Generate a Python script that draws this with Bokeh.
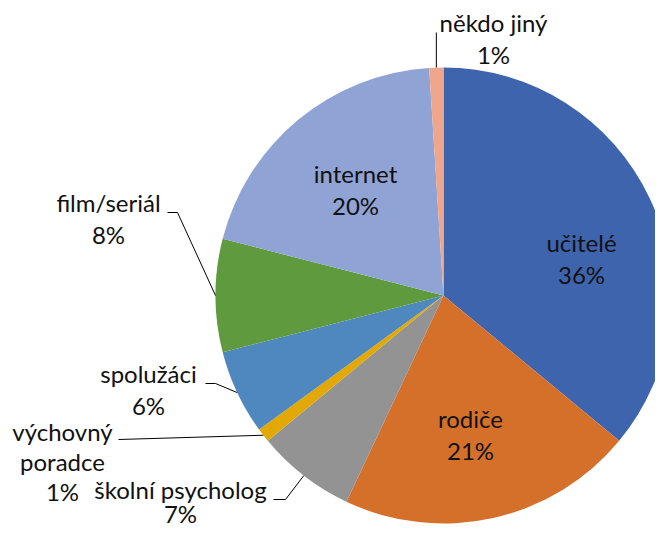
import math
from bokeh.plotting import figure
from bokeh.models import Range1d, ColumnDataSource
from bokeh.core.properties import value
from bokeh.embed import file_html
from bokeh.resources import INLINE

# ---- data ----
categories = ["učitelé", "rodiče", "školní psycholog", "výchovný poradce",
              "spolužáci", "film/seriál", "internet", "někdo jiný"]
percents = [36, 21, 7, 1, 6, 8, 20, 1]
colors = ["#3E64AE", "#D5702B", "#939393", "#E2A905",
          "#4F87BF", "#609A3F", "#8FA3D4", "#EFA68B"]

# ---- layout (pixels from the picture's top-left) ----
W, H = 655, 532
CX, CY, R = 443, 295, 228
FONT = "Lato"
FS = "24px"
LINE = 32
DY = -3  # font baseline correction

def Y(py):
    return H - py

# label text lines (first-line centre) per category, and line spacing
label_lines = {
    "učitelé": (["učitelé"], 581, 245, LINE),
    "rodiče": (["rodiče"], 470, 421, LINE),
    "školní psycholog": (["školní psycholog"], 180, 492, 24),
    "výchovný poradce": (["výchovný", "poradce"], 62, 434, 30),
    "spolužáci": (["spolužáci"], 148, 376, LINE),
    "film/seriál": (["film/seriál"], 108, 205, LINE),
    "internet": (["internet"], 355, 176, LINE),
    "někdo jiný": (["někdo jiný"], 493, 25, LINE),
}
# leader-line elbows (pie-side point is computed from the slice angle)
leader_elbows = {
    "školní psycholog": [(273, 499), (285, 499)],
    "výchovný poradce": [(118, 439)],
    "spolužáci": [(205, 383), (215, 383)],
    "film/seriál": [(167, 212), (177, 212)],
    "někdo jiný": [(None, 32)],
}

p = figure(width=W, height=H, output_backend="svg", toolbar_location=None,
           x_range=Range1d(0, W), y_range=Range1d(0, H), min_border=0)
p.axis.visible = False
p.grid.visible = False
p.outline_line_color = None
p.background_fill_color = "white"
p.border_fill_color = "white"

total = sum(percents)
starts, ends, mids = [], [], []
cum = 0
for v in percents:
    starts.append(math.pi / 2 - 2 * math.pi * (cum + v) / total)
    ends.append(math.pi / 2 - 2 * math.pi * cum / total)
    mids.append(math.pi / 2 - 2 * math.pi * (cum + v / 2) / total)
    cum += v

src = ColumnDataSource(dict(start=starts, end=ends, color=colors, cat=categories))
p.wedge(x=CX, y=Y(CY), radius=R, start_angle="start", end_angle="end",
        direction="anticlock", fill_color="color", line_color=None, source=src)

# leader lines
for cat, elbows in leader_elbows.items():
    i = categories.index(cat)
    ex = CX + R * math.cos(mids[i])
    ey = CY - R * math.sin(mids[i])
    xs, ys = [], []
    for (x, y) in elbows:
        xs.append(ex if x is None else x)
        ys.append(Y(y))
    xs.append(ex)
    ys.append(Y(ey))
    p.line(xs, ys, line_color="#000000", line_width=1)

# labels
tx, ty, tt = [], [], []
for cat, v in zip(categories, percents):
    lines, x, y, sp = label_lines[cat]
    for k, t in enumerate(lines + [f"{v}%"]):
        tx.append(x)
        ty.append(Y(y + k * sp + DY))
        tt.append(t)
p.text(x=tx, y=ty, text=tt, text_font=value(FONT), text_font_size=value(FS),
       text_align="center", text_baseline="middle", text_color="#111111")

open("out.html", "w").write(file_html(p, INLINE))
